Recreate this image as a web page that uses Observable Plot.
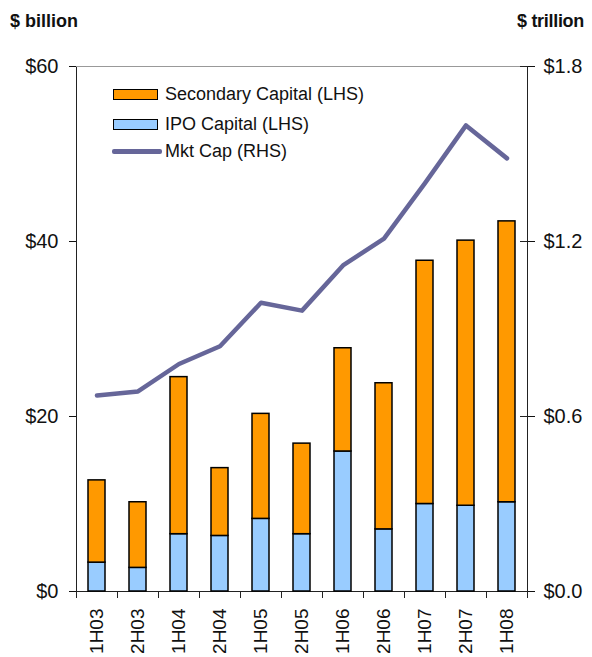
<!DOCTYPE html>
<html>
<head>
<meta charset="utf-8">
<script src="https://cdn.jsdelivr.net/npm/d3@7"></script>
<script src="https://cdn.jsdelivr.net/npm/@observablehq/plot@0.6"></script>
<style>
  body { margin: 0; background: #fff; font-family: "Liberation Sans", Arial, sans-serif; }
  #wrap { position: relative; width: 592px; height: 657px; overflow: hidden; }
  .title { position: absolute; font-weight: bold; font-size: 18px; color: #111; }
  .leg { position: absolute; font-size: 18px; color: #111; line-height: 1; white-space: nowrap; }
  .sw { position: absolute; box-sizing: border-box; border: 1.5px solid #000; }
  .ln { position: absolute; height: 4.5px; background: #666699; border-radius: 2px; }
</style>
</head>
<body>
<div id="wrap">
  <div class="title" style="left:10px; top:11px;">$ billion</div>
  <div class="title" style="left:517px; top:11px; letter-spacing:-0.3px;">$ trillion</div>
</div>
<script>
const categories = ["1H03","2H03","1H04","2H04","1H05","2H05","1H06","2H06","1H07","2H07","1H08"];
const ipoCapital = [3.3, 2.7, 6.55, 6.35, 8.3, 6.55, 16.0, 7.1, 10.0, 9.8, 10.2];
const secondaryCapital = [9.4, 7.5, 17.95, 7.75, 12.0, 10.35, 11.8, 16.7, 27.8, 30.3, 32.1];
const mktCap = [0.672, 0.686, 0.78, 0.841, 0.99, 0.963, 1.118, 1.21, 1.40, 1.598, 1.485];
const leftTicks = [0, 20, 40, 60];
const rightTicks = [0, 0.6, 1.2, 1.8];
const seriesNames = ["IPO Capital (LHS)", "Secondary Capital (LHS)", "Mkt Cap (RHS)"];
const seriesColors = ["#99CCFF", "#FF9900", "#666699"];

const k = 60 / 1.8; // right-axis ($ trillion) to left-axis ($ billion) scale

const bars = categories.flatMap((c, i) => [
  {cat: c, series: seriesNames[0], value: ipoCapital[i]},
  {cat: c, series: seriesNames[1], value: secondaryCapital[i]}
]);
const capLine = categories.map((c, i) => ({cat: c, v: mktCap[i] * k}));

const chart = Plot.plot({
  width: 592,
  height: 657,
  marginTop: 66,
  marginBottom: 66,
  marginLeft: 76,
  marginRight: 65,
  style: {fontFamily: "Liberation Sans, Arial, sans-serif", color: "#111", background: "transparent"},
  x: {domain: categories, paddingInner: 0.58, paddingOuter: 0.29, label: null},
  y: {domain: [0, 60], label: null},
  color: {domain: [seriesNames[0], seriesNames[1]], range: [seriesColors[0], seriesColors[1]]},
  marks: [
    Plot.frame({stroke: "#222"}),
    Plot.ruleY([60], {stroke: "#999"}),
    Plot.barY(bars, {x: "cat", y: "value", fill: "series", stroke: "#000", strokeWidth: 1.5,
      order: [seriesNames[0], seriesNames[1]]}),
    Plot.line(capLine, {x: "cat", y: "v", stroke: seriesColors[2], strokeWidth: 4.5, strokeLinejoin: "round", strokeLinecap: "round"}),
    Plot.axisY(leftTicks, {anchor: "left", tickSize: 7, tickPadding: 11, fontSize: 20,
      tickFormat: d => "$" + d, label: null}),
    Plot.axisY(rightTicks.map(v => v * k), {anchor: "right", tickSize: 7, tickPadding: 9, fontSize: 20,
      tickFormat: d => "$" + (d / k).toFixed(1), label: null}),
    Plot.ruleY(rightTicks.map(v => v * k), {insetLeft: 444, stroke: "#222"}),
    Plot.axisX({tickSize: 0, tickPadding: 17, tickRotate: -90, fontSize: 19, label: null}),
    Plot.ruleX(categories, {x: d => d, dx: -20.5, insetTop: 525, insetBottom: -7, stroke: "#222"}),
    Plot.ruleX([categories[categories.length - 1]], {x: d => d, dx: 20.5, insetTop: 525, insetBottom: -7, stroke: "#222"})
  ]
});
chart.style.position = "absolute";
chart.style.left = "0px";
chart.style.top = "0px";
const wrap = document.getElementById("wrap");
wrap.insertBefore(chart, wrap.firstChild);

// Legend
const legend = [
  {name: seriesNames[1], color: seriesColors[1], type: "box", top: 89},
  {name: seriesNames[0], color: seriesColors[0], type: "box", top: 119},
  {name: seriesNames[2], color: seriesColors[2], type: "line", top: 151}
];
for (const item of legend) {
  if (item.type === "box") {
    const sw = document.createElement("div");
    sw.className = "sw";
    Object.assign(sw.style, {left: "113px", top: item.top + "px", width: "45px", height: "11px", background: item.color});
    wrap.appendChild(sw);
  } else {
    const ln = document.createElement("div");
    ln.className = "ln";
    Object.assign(ln.style, {left: "112px", top: (item.top - 2) + "px", width: "50px", background: item.color});
    wrap.appendChild(ln);
  }
  const t = document.createElement("div");
  t.className = "leg";
  t.textContent = item.name;
  Object.assign(t.style, {left: "165px", top: (item.type === "box" ? item.top - 4 : item.top - 9) + "px"});
  wrap.appendChild(t);
}
</script>
</body>
</html>
